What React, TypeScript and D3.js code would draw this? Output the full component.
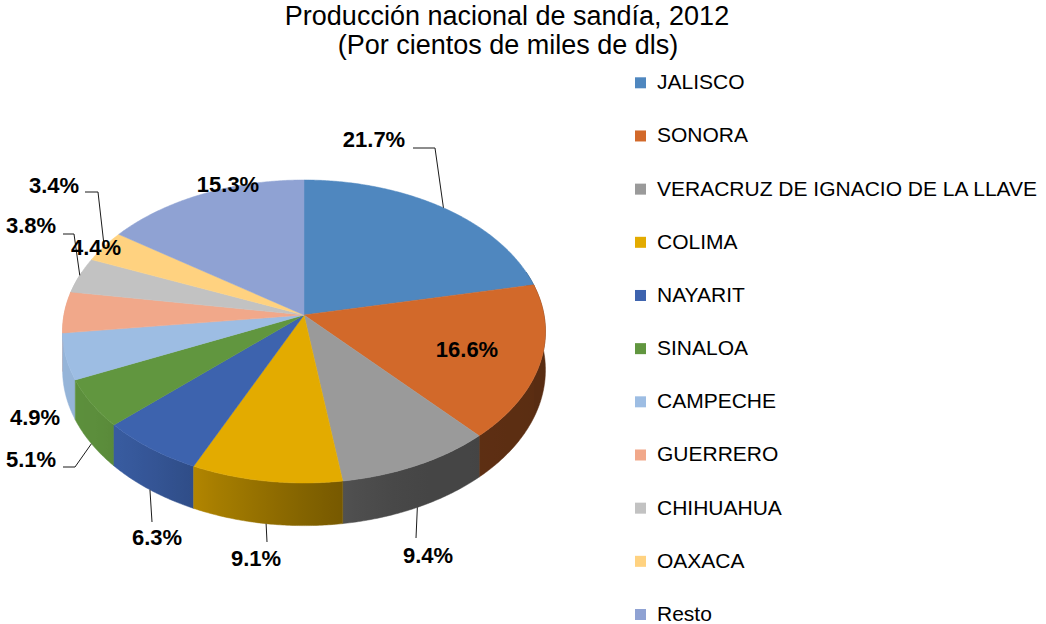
import React from 'react';
import * as d3 from 'd3';

const TITLE_LINES = ['Producción nacional de sandía, 2012', '(Por cientos de miles de dls)'];
const CATEGORIES = ['JALISCO', 'SONORA', 'VERACRUZ DE IGNACIO DE LA LLAVE', 'COLIMA', 'NAYARIT', 'SINALOA', 'CAMPECHE', 'GUERRERO', 'CHIHUAHUA', 'OAXACA', 'Resto'];
const VALUES = [21.7, 16.6, 9.4, 9.1, 6.3, 5.1, 4.9, 4.4, 3.8, 3.4, 15.3];
const COLORS = ['#4F87BF', '#D2692A', '#9A9A9A', '#E3AB00', '#3D63AE', '#61963F', '#9DBDE3', '#F1A88A', '#C2C2C2', '#FFD280', '#8FA2D3'];

// label layout (text centre x, baseline y, leader start points, anchor on top rim or bottom of side)
const LABEL_LAYOUT: { x: number; y: number; leader: number[][] | null; anchor: 'top' | 'bottom' }[] = [
  { x: 374, y: 147, leader: [[413, 148], [435, 148]], anchor: 'top' },
  { x: 467, y: 357, leader: null, anchor: 'top' },
  { x: 428, y: 563, leader: [[416, 538]], anchor: 'bottom' },
  { x: 256, y: 566, leader: [[267, 542]], anchor: 'bottom' },
  { x: 157, y: 545, leader: [[152, 522]], anchor: 'bottom' },
  { x: 31, y: 467, leader: [[63, 467], [75, 467]], anchor: 'bottom' },
  { x: 35, y: 425, leader: null, anchor: 'top' },
  { x: 96, y: 255, leader: null, anchor: 'top' },
  { x: 31, y: 233, leader: [[63, 234], [74, 234]], anchor: 'top' },
  { x: 54, y: 193, leader: [[85, 192], [98, 192]], anchor: 'top' },
  { x: 228, y: 192, leader: null, anchor: 'top' },
];

const CX = 304, CY = 315, R = 240, RY = 149.7, P = 0.1088, DEPTH = 38;

function proj(theta: number, z = 0): [number, number] {
  const u = Math.sin(theta), v = -Math.cos(theta);
  const s = 1 / (1 - P * v);
  return [CX + R * u * s, CY + RY * v * s + z * DEPTH * s];
}

function shade(theta: number): number {
  const deg = ((theta * 180) / Math.PI + 360) % 360;
  const t = Math.max(0, Math.min(1, (deg - 150) / 90));
  const sm = t * t * (3 - 2 * t);
  let f = 0.45 + 0.5 * sm;
  if (deg < 150) f = 0.42 + 0.03 * Math.max(0, (deg - 90) / 60);
  return f;
}

function darken(c: string, f: number): string {
  const r = d3.rgb(c);
  return d3.rgb(r.r * f, r.g * f, r.b * f).formatHex();
}

export default function App() {
  const pie = d3.pie<number>().sort(null).value((d) => d).startAngle(0).endAngle(2 * Math.PI);
  const arcs = pie(VALUES);
  const line = d3.line();
  const step = Math.PI / 360;
  const visLo = Math.PI / 2 - 0.3, visHi = (3 * Math.PI) / 2 + 0.3;

  const sides: { d: string; id: string; x1: number; x2: number; stops: { o: number; c: string }[]; v: number }[] = [];
  arcs.forEach((a, i) => {
    const t0 = Math.max(a.startAngle, visLo), t1 = Math.min(a.endAngle, visHi);
    if (t1 <= t0) return;
    const n = Math.max(2, Math.ceil((t1 - t0) / step));
    const topPts: [number, number][] = [];
    const botPts: [number, number][] = [];
    for (let k = 0; k <= n; k++) {
      const t = t0 + ((t1 - t0) * k) / n;
      topPts.push(proj(t));
      botPts.push(proj(t, 1));
    }
    const x1 = topPts[0][0], x2 = topPts[n][0];
    const stops: { o: number; c: string }[] = [];
    const m = 12;
    for (let k = 0; k <= m; k++) {
      const t = t0 + ((t1 - t0) * k) / m;
      const x = proj(t)[0];
      const o = Math.abs(x2 - x1) < 1e-6 ? k / m : (x - x1) / (x2 - x1);
      stops.push({ o: Math.max(0, Math.min(1, o)), c: darken(COLORS[i], shade(t)) });
    }
    stops.sort((p, q) => p.o - q.o);
    const pts = [...topPts, ...botPts.reverse()];
    sides.push({ d: line(pts) + 'Z', id: 'side' + i, x1, x2, stops, v: -Math.cos((t0 + t1) / 2) });
  });
  sides.sort((p, q) => p.v - q.v);

  const tops = arcs.map((a, i) => {
    const n = Math.max(2, Math.ceil((a.endAngle - a.startAngle) / step));
    const pts: [number, number][] = [[CX, CY]];
    for (let k = 0; k <= n; k++) pts.push(proj(a.startAngle + ((a.endAngle - a.startAngle) * k) / n));
    return { d: line(pts) + 'Z', fill: COLORS[i] };
  });

  const legendY = (i: number) => 89.3 + 53.17 * i;

  return (
    <svg width={1046} height={624} style={{ position: 'absolute', left: 0, top: 0, background: '#fff' }}>
      <defs>
        {sides.map((s) => (
          <linearGradient key={s.id} id={s.id} gradientUnits="userSpaceOnUse" x1={s.x1} y1={0} x2={s.x2} y2={0}>
            {s.stops.map((st, k) => (
              <stop key={k} offset={st.o} stopColor={st.c} />
            ))}
          </linearGradient>
        ))}
      </defs>
      <g fontFamily="'Liberation Sans', Arial, sans-serif" fontSize={27} fill="#000" textAnchor="middle">
        <text x={507} y={25}>{TITLE_LINES[0]}</text>
        <text x={508} y={54}>{TITLE_LINES[1]}</text>
      </g>
      <g>
        {sides.map((s) => (
          <path key={s.id} d={s.d} fill={`url(#${s.id})`} stroke={`url(#${s.id})`} strokeWidth={0.5} />
        ))}
      </g>
      <g>
        {tops.map((t, i) => (
          <path key={'t' + i} d={t.d} fill={t.fill} stroke={t.fill} strokeWidth={0.5} strokeLinejoin="round" />
        ))}
      </g>
      <g>
        {arcs.map((a, i) => {
          const L = LABEL_LAYOUT[i];
          if (!L.leader) return null;
          const mid = (a.startAngle + a.endAngle) / 2;
          const anchor = L.anchor === 'top' ? proj(mid) : proj(mid, 1);
          const pts = [...L.leader, anchor] as [number, number][];
          return <path key={'l' + i} d={line(pts) as string} fill="none" stroke="#1a1a1a" strokeWidth={1} />;
        })}
      </g>
      <g fontFamily="'Liberation Sans', Arial, sans-serif" fontWeight="bold" fontSize={22} fill="#000" textAnchor="middle">
        {VALUES.map((v, i) => (
          <text key={'v' + i} x={LABEL_LAYOUT[i].x} y={LABEL_LAYOUT[i].y}>{v.toFixed(1) + '%'}</text>
        ))}
      </g>
      <g fontFamily="'Liberation Sans', Arial, sans-serif" fontSize={21} fill="#000">
        {CATEGORIES.map((c, i) => (
          <g key={'g' + i}>
            <rect x={635} y={legendY(i) - 12} width={11} height={11} fill={COLORS[i]} />
            <text x={657} y={legendY(i)}>{c}</text>
          </g>
        ))}
      </g>
    </svg>
  );
}
